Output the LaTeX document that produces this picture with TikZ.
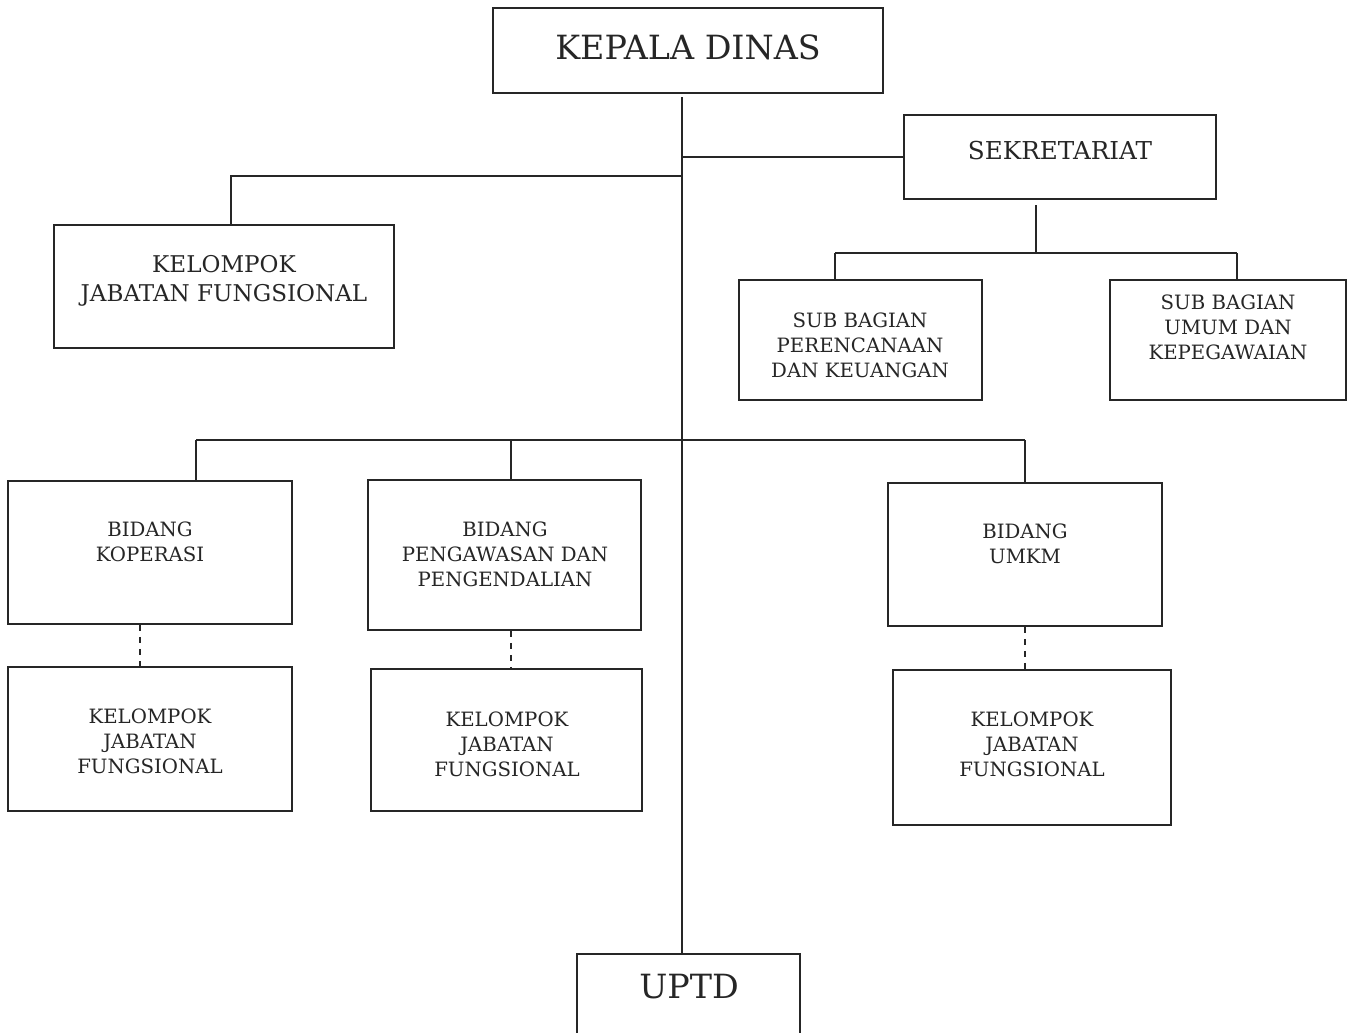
\documentclass[tikz,border=0pt]{standalone}
\usepackage{fontspec}
\setmainfont{DejaVu Serif}
\usetikzlibrary{fit}
\tikzset{
  box/.style={draw=black!85, line width=1.4pt, inner sep=0pt, fill=none},
  ln/.style={draw=black!85, line width=1.3pt},
  dl/.style={draw=black!85, line width=1.3pt, dash pattern=on 4.5pt off 4.5pt},
  txt/.style={text=black!85, align=center, inner sep=0pt, font=\fontsize{14.8pt}{18.75pt}\selectfont},
  txtb/.style={txt, font=\fontsize{17.3pt}{21.75pt}\selectfont},
  big/.style={txt, font=\fontsize{25pt}{28pt}\selectfont},
}
\begin{document}
\begin{tikzpicture}[x=0.75pt,y=-0.75pt]
\useasboundingbox (0,0) rectangle (1349,1032);
% boxes
\node[box, fit={(493,8) (883,93)}] (kd) {};
\node[box, fit={(904,115) (1216,199)}] (sek) {};
\node[box, fit={(54,225) (394,348)}] (kjf) {};
\node[box, fit={(739,280) (982,400)}] (sb1) {};
\node[box, fit={(1110,280) (1346,400)}] (sb2) {};
\node[box, fit={(8,481) (292,624)}] (bk) {};
\node[box, fit={(368,480) (641,630)}] (bp) {};
\node[box, fit={(888,483) (1162,626)}] (bu) {};
\node[box, fit={(8,667) (292,811)}] (k1) {};
\node[box, fit={(371,669) (642,811)}] (k2) {};
\node[box, fit={(893,670) (1171,825)}] (k3) {};
\node[box, fit={(577,954) (800,1045)}] (uptd) {};
% texts
\node[big] (tkd) at (688,47) {KEPALA DINAS};
\node[txt, font=\fontsize{18.5pt}{22pt}\selectfont] (tsek) at (1060,151) {SEKRETARIAT};
\node[txtb] (tkjf) at (224,281) {KELOMPOK\\JABATAN FUNGSIONAL};
\node[txt] (tsb1) at (860,345) {SUB BAGIAN\\PERENCANAAN\\DAN KEUANGAN};
\node[txt] (tsb2) at (1228,327) {SUB BAGIAN\\UMUM DAN\\KEPEGAWAIAN};
\node[txt] (tbk) at (150,542) {BIDANG\\KOPERASI};
\node[txt] (tbp) at (505,554) {BIDANG\\PENGAWASAN DAN\\PENGENDALIAN};
\node[txt] (tbu) at (1025,544) {BIDANG\\UMKM};
\node[txt] (tk1) at (150,741) {KELOMPOK\\JABATAN\\FUNGSIONAL};
\node[txt] (tk2) at (507,744) {KELOMPOK\\JABATAN\\FUNGSIONAL};
\node[txt] (tk3) at (1032,744) {KELOMPOK\\JABATAN\\FUNGSIONAL};
\node[txt, font=\fontsize{25pt}{28pt}\selectfont] (tup) at (689,987) {UPTD};
% connector coordinates
\coordinate (m0) at (682,97);
\coordinate (jk) at (231,176);
\coordinate (s0) at (1036,205);
\coordinate (sh) at (1036,253);
\coordinate (b0) at (682,440);
% main trunk
\draw[ln] (m0) -- (m0 |- uptd.north);
% sekretariat
\draw[ln] (m0 |- sek.west) -- (sek.west);
% kelompok jabatan fungsional (top)
\draw[ln] (m0 |- jk) -- (jk) -- (jk |- kjf.north);
% sekretariat sub-bagian
\draw[ln] (s0) -- (sh);
\draw[ln] (835,253) -- (1237,253);
\draw[ln] (835,253) -- (835,0 |- sb1.north);
\draw[ln] (1237,253) -- (1237,0 |- sb2.north);
% bidang bus
\draw[ln] (196,440) -- (1025,440);
\draw[ln] (196,440) -- (196,0 |- bk.north);
\draw[ln] (511,440) -- (511,0 |- bp.north);
\draw[ln] (1025,440) -- (1025,0 |- bu.north);
% dashed links
\draw[dl] (140,0 |- bk.south) -- (140,0 |- k1.north);
\draw[dl] (511,0 |- bp.south) -- (511,0 |- k2.north);
\draw[dl] (1025,0 |- bu.south) -- (1025,0 |- k3.north);
\end{tikzpicture}
\end{document}
